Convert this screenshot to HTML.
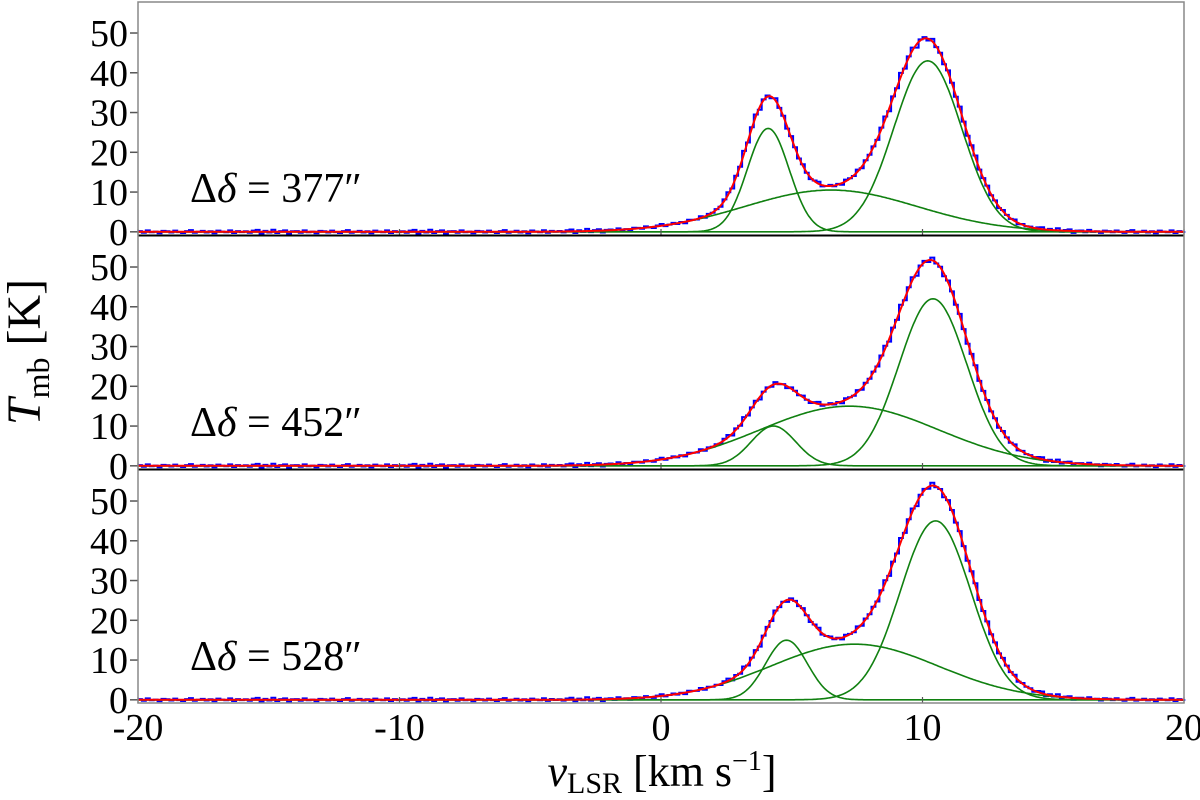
<!DOCTYPE html>
<html><head><meta charset="utf-8"><style>
body{margin:0;background:#fff;}
svg text{font-family:"Liberation Serif",serif;fill:#000;}
</style></head><body>
<svg id="chart" width="1200" height="795" xmlns="http://www.w3.org/2000/svg"></svg>
<script>
const xTicks=[-20,-10,0,10,20];
const yTicks=[0,10,20,30,40,50];
const panelLabels=["377","452","528"];
// gaussian components per panel: [amp, center, sigma]
const compsP1=[[26,4.1,0.8],[43,10.2,1.3],[10.5,6.5,3.3]];
const compsP2=[[10,4.3,0.85],[42,10.4,1.3],[15,7.2,3.4]];
const compsP3=[[15,4.8,0.8],[45,10.5,1.35],[14,7.4,3.2]];
const residuals=[0.3,-0.4,0.6,-0.2,0.1,-0.6,0.4,0.2,-0.3,0.5,-0.1,-0.5,0.3,0.7,-0.4,0.0,0.4,-0.3,0.2,-0.6,0.5,0.1,-0.2,0.6,-0.5,0.3,-0.1,0.2,-0.4,0.5,0.8,-0.7,0.4,-0.3,0.9,-0.5,0.3,0.6,-0.8,0.2];
const svg=document.getElementById('chart');
const NS='http://www.w3.org/2000/svg';
const X0=138,X1=1184;
const panels=[{top:2,bot:235},{top:236,bot:469},{top:470,bot:703}];
const yMin=-0.8,yMax=57.8;
function xs(v){return X0+(v+20)/40*(X1-X0);}
function mk(tag,attrs){const e=document.createElementNS(NS,tag);for(const k in attrs)e.setAttribute(k,attrs[k]);svg.appendChild(e);return e;}
function gauss(c,v){return c[0]*Math.exp(-0.5*Math.pow((v-c[1])/c[2],2));}
const allComps=[compsP1,compsP2,compsP3];
panels.forEach((p,i)=>{
  const ys=v=>p.bot-(v-yMin)/(yMax-yMin)*(p.bot-p.top);
  const comps=allComps[i];
  let d='';const step=0.15;let k=0;
  for(let v=-20;v<20;v+=step,k++){
    const m=comps.reduce((s,c)=>s+gauss(c,v+step/2),0);
    let y=m+residuals[k%residuals.length]*(0.6+0.01*m);
    d+=(k===0?'M':'L')+xs(v).toFixed(1)+','+ys(y).toFixed(1)+'L'+xs(v+step).toFixed(1)+','+ys(y).toFixed(1);
  }
  const h=mk('path',{d:d,fill:'none',stroke:'#0000ff','stroke-width':2});
  
  
  comps.forEach((c,j)=>{
    let g='';
    for(let v=-20;v<=20.001;v+=0.05){g+=(g?'L':'M')+xs(v).toFixed(1)+','+ys(gauss(c,v)).toFixed(1);}
    const e=mk('path',{d:g,fill:'none',stroke:'#108010','stroke-width':1.6});
    
    
  });
  let f='';
  for(let v=-20;v<=20.001;v+=0.05){f+=(f?'L':'M')+xs(v).toFixed(1)+','+ys(comps.reduce((s,c)=>s+gauss(c,v),0)).toFixed(1);}
  const fit=mk('path',{d:f,fill:'none',stroke:'#ff0000','stroke-width':2});
  
  
  yTicks.forEach(t=>{
    const y=ys(t);
    mk('line',{x1:X0-8,x2:X0,y1:y,y2:y,stroke:'#555','stroke-width':1.5});
    const tx=mk('text',{x:X0-10,y:y+13,'font-size':38,'text-anchor':'end'});tx.textContent=t;
    
    
  });
  xTicks.forEach(t=>{mk('line',{x1:xs(t),x2:xs(t),y1:p.bot-6,y2:p.bot,stroke:'#555','stroke-width':1.2});});
  const lb=mk('text',{x:190,y:ys(7.5),'font-size':42});
  lb.innerHTML='Δ<tspan font-style="italic">δ</tspan> = '+panelLabels[i]+'″';
  
  
  if(i>0)mk('line',{x1:X0,x2:X1,y1:p.top-0.5,y2:p.top-0.5,stroke:'#000','stroke-width':2});
});
mk('rect',{x:X0,y:2,width:X1-X0,height:701,fill:'none',stroke:'#888','stroke-width':1.5});
xTicks.forEach(t=>{
  const tx=mk('text',{x:xs(t),y:740,'font-size':38,'text-anchor':'middle'});tx.textContent=t;
  
  
});
const xt=mk('text',{x:662,y:786,'font-size':44,'text-anchor':'middle'});
xt.innerHTML='<tspan font-style="italic">v</tspan><tspan font-size="30" dy="7">LSR</tspan><tspan dy="-7"> [km s</tspan><tspan font-size="28" dy="-16">−1</tspan><tspan dy="16">]</tspan>';


const yt=mk('text',{x:0,y:0,'font-size':48,'text-anchor':'middle',transform:'translate(40,352) rotate(-90)'});
yt.innerHTML='<tspan font-style="italic">T</tspan><tspan font-size="32" dy="9">mb</tspan><tspan dy="-9"> [K]</tspan>';


</script>
</body></html>
